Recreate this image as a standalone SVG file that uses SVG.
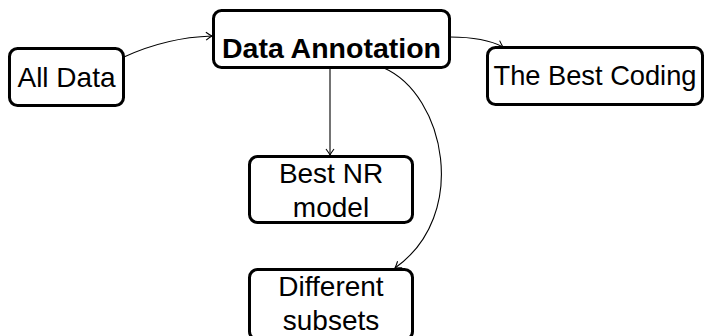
<svg xmlns="http://www.w3.org/2000/svg" width="705" height="336" viewBox="0 0 705 336">
<style>
.box{fill:#fff;stroke:#000;stroke-width:3}
.t{font-family:"Liberation Sans","DejaVu Sans",sans-serif;font-size:28px;fill:#000;text-anchor:middle}
.b{font-weight:bold;font-size:28.5px}
.c{fill:none;stroke:#000;stroke-width:1.1;marker-end:url(#ah)}
</style>
<defs>
<marker id="ah" viewBox="-8 -5 10 10" refX="0" refY="0" markerWidth="10" markerHeight="10" markerUnits="userSpaceOnUse" orient="auto">
<path d="M-6,-4 Q-2,-1 0,0 Q-2,1 -6,4" fill="none" stroke="#000" stroke-width="1.1"/>
</marker>
</defs>
<g id="connectors">
<path class="c" d="M124,57 C150,45 180,37 212,36"/>
<path class="c" d="M450,37 C470,37 490,40 503,47"/>
<path class="c" d="M330,68 L330,155"/>
<path class="c" d="M384,68 C445,95 470,215 395,268"/>
</g>
<g id="all-data">
<rect class="box" x="9.5" y="48.5" width="114" height="57" rx="8"/>
<text class="t" x="66.5" y="87">All Data</text>
</g>
<g id="data-annotation">
<rect class="box" x="213.5" y="10.5" width="236" height="57" rx="8"/>
<text class="t b" x="331.5" y="58">Data Annotation</text>
</g>
<g id="best-coding">
<rect class="box" x="487.5" y="47.5" width="215" height="57" rx="8"/>
<text class="t" x="595" y="85" textLength="203" lengthAdjust="spacingAndGlyphs">The Best Coding</text>
</g>
<g id="best-nr">
<rect class="box" x="249.5" y="156.5" width="163" height="66" rx="8"/>
<text class="t" x="331" y="183">Best NR</text>
<text class="t" x="331" y="217">model</text>
</g>
<g id="different-subsets">
<rect class="box" x="249.5" y="269.5" width="163" height="70" rx="8"/>
<text class="t" x="331" y="296">Different</text>
<text class="t" x="331" y="330">subsets</text>
</g>
</svg>
